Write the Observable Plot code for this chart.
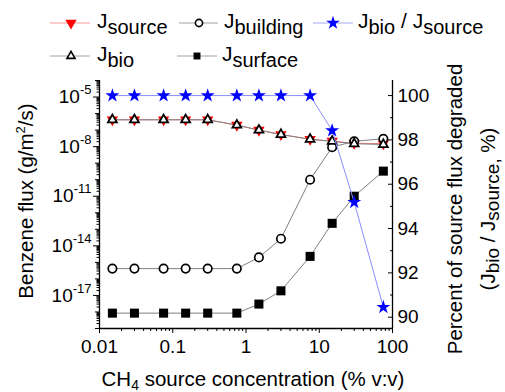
<!DOCTYPE html>
<html><head><meta charset="utf-8">
<script src="https://cdn.jsdelivr.net/npm/d3@7"></script>
<script src="https://cdn.jsdelivr.net/npm/@observablehq/plot@0.6"></script>
<style>
html,body{margin:0;padding:0;background:#fff;}
#wrap{position:relative;width:505px;height:392px;font-family:"Liberation Sans",Arial,sans-serif;overflow:hidden;}
#wrap svg{position:absolute;left:0;top:0;}
</style></head><body><div id="wrap"></div>
<script>
// ---- data ----
const conc = [0.015, 0.03, 0.075, 0.15, 0.3, 0.75, 1.5, 3, 7.5, 15, 30, 75];
const jSource = [4.2e-7, 4.2e-7, 4.2e-7, 4.2e-7, 4.2e-7, 2.0e-7, 1.0e-7, 5.4e-8, 2.8e-8, 2.15e-8, 1.6e-8, 1.5e-8];
const jBio = [4.2e-7, 4.2e-7, 4.2e-7, 4.2e-7, 4.2e-7, 2.0e-7, 1.0e-7, 5.4e-8, 2.8e-8, 2.1e-8, 1.5e-8, 1.35e-8];
const jBuilding = [4.2e-16, 4.2e-16, 4.2e-16, 4.2e-16, 4.2e-16, 4.2e-16, 2.0e-15, 2.7e-14, 1.0e-10, 9.3e-9, 2.1e-8, 3.0e-8];
const jSurface = [8.5e-19, 8.5e-19, 8.5e-19, 8.5e-19, 8.5e-19, 8.5e-19, 3.0e-18, 1.9e-17, 2.3e-15, 2.3e-13, 1.0e-11, 3.3e-10];
const pctDegraded = [100, 100, 100, 100, 100, 100, 100, 100, 100, 98.42, 95.19, 90.45];
const xTicks = [0.01, 0.1, 1, 10, 100];
const yTicksLeft = [1e-5, 1e-8, 1e-11, 1e-14, 1e-17];
const yTicksRight = [90, 92, 94, 96, 98, 100];
const yMinorRight = [91, 93, 95, 97, 99];
const legendLabels = [["J", "source"], ["J", "building"], ["J", "bio", " / J", "source"], ["J", "bio"], ["J", "surface"]];

const rows = conc.map((c, i) => ({c, src: jSource[i], bio: jBio[i], bld: jBuilding[i], sur: jSurface[i], pct: pctDegraded[i]}));

const minorX = [];
for (let e = -2; e <= 1; e++) for (let k = 2; k <= 9; k++) minorX.push(k * Math.pow(10, e));
const decY = [], minorY = [];
for (let e = -19; e <= -5; e++) {
  const v = Math.pow(10, e);
  if (!yTicksLeft.some(t => Math.abs(Math.log10(t) - e) < 1e-9)) decY.push(v);
  for (let k = 2; k <= 9; k++) minorY.push(k * v);
}
decY.push(1e-4);

const triDown = {draw(ctx, size) {
  const y = Math.sqrt(size / (Math.sqrt(3) * 3));
  ctx.moveTo(0, 2 * y); ctx.lineTo(-Math.sqrt(3) * y, -y); ctx.lineTo(Math.sqrt(3) * y, -y); ctx.closePath();
}};

const W = 505, H = 392, mL = 99, mR = 113, mT = 80, mB = 64;
const FONT = '"Liberation Sans", Arial, sans-serif';
const common = {width: W, height: H, marginLeft: mL, marginRight: mR, marginTop: mT, marginBottom: mB,
  style: {fontFamily: FONT, fontSize: "19px", color: "#000", background: "transparent", overflow: "visible"}};

const main = Plot.plot({
  ...common,
  x: {type: "log", domain: [0.01, 100], label: null},
  y: {type: "log", domain: [1e-19, 1e-4], label: null},
  marks: [
    Plot.axisX(minorX, {tickSize: 3, tickFormat: () => "", label: null}),
    Plot.axisX(xTicks, {tickSize: 5, tickPadding: 6, fontSize: 19, tickFormat: d => String(d), label: null}),
    Plot.axisY(minorY, {anchor: "left", tickSize: 2.5, tickFormat: () => "", label: null}),
    Plot.axisY(decY, {anchor: "left", tickSize: 4, tickFormat: () => "", label: null}),
    Plot.axisY(yTicksLeft, {anchor: "left", tickSize: 6, tickPadding: 2, fontSize: 19, tickFormat: d => "10^" + Math.round(Math.log10(d)), label: null}),
    Plot.ruleX([0.01, 100], {stroke: "#000", strokeWidth: 1.3}),
    Plot.ruleY([1e-19], {stroke: "#000", strokeWidth: 1.3}),
    Plot.line(rows, {x: "c", y: "src", stroke: "#ff5050", strokeWidth: 0.8}),
    Plot.line(rows, {x: "c", y: "bld", stroke: "#808080", strokeWidth: 1}),
    Plot.line(rows, {x: "c", y: "sur", stroke: "#808080", strokeWidth: 1}),
    Plot.line(rows, {x: "c", y: "bio", stroke: "#808080", strokeWidth: 1}),
    Plot.dot(rows, {x: "c", y: "src", symbol: triDown, r: 4.2, fill: "#ff0000", stroke: "none"}),
    Plot.dot(rows, {x: "c", y: "bld", symbol: "circle", r: 4.2, fill: "#fff", stroke: "#000", strokeWidth: 1.7}),
    Plot.dot(rows, {x: "c", y: "sur", symbol: "square", r: 5.1, fill: "#000", stroke: "none"}),
    Plot.dot(rows, {x: "c", y: "bio", symbol: "triangle", r: 3.3, fill: "#fff", stroke: "#000", strokeWidth: 1.8})
  ]
});

const over = Plot.plot({
  ...common,
  x: {type: "log", domain: [0.01, 100], axis: null},
  y: {domain: [89.49, 100.68], label: null},
  marks: [
    Plot.axisY(yMinorRight, {anchor: "right", tickSize: -3, tickFormat: () => "", label: null}),
    Plot.axisY(yTicksRight, {anchor: "right", tickSize: -5, tickPadding: 10, fontSize: 19, tickFormat: d => String(d), label: null}),
    Plot.line(rows, {x: "c", y: "pct", stroke: "#8c8cff", strokeWidth: 1}),
    Plot.dot(rows, {x: "c", y: "pct", symbol: "star", r: 4.4, fill: "#0000ff", stroke: "none"})
  ]
});

const wrap = document.getElementById("wrap");
wrap.appendChild(main);
wrap.appendChild(over);

// superscripts on log tick labels
d3.select(main).selectAll("text").each(function() {
  const t = this.textContent;
  const m = /^10\^(-?\d+)$/.exec(t);
  if (!m) return;
  const s = d3.select(this);
  s.text("");
  s.append("tspan").text("10");
  s.append("tspan").attr("font-size", 13).attr("dy", -9).text(m[1]);
});

// axis titles
const ms = d3.select(main);
const ttl = ms.append("g").attr("font-family", FONT).attr("fill", "#000").attr("font-size", 20.5);
const xt = ttl.append("text").attr("x", 253).attr("y", 386).attr("text-anchor", "middle");
xt.append("tspan").text("CH");
xt.append("tspan").attr("font-size", 14).attr("dy", 4).text("4");
xt.append("tspan").attr("dy", -4).text(" source concentration (% v:v)");

const yt = ttl.append("text").attr("transform", "translate(33,201) rotate(-90)").attr("text-anchor", "middle");
yt.append("tspan").text("Benzene flux (g/m");
yt.append("tspan").attr("font-size", 13).attr("dy", -8).text("2");
yt.append("tspan").attr("dy", 8).text("/s)");

ttl.append("text").attr("transform", "translate(462,209) rotate(-90)").attr("text-anchor", "middle")
  .text("Percent of source flux degraded");
const r2 = ttl.append("text").attr("transform", "translate(495,209) rotate(-90)").attr("text-anchor", "middle");
r2.append("tspan").text("(J");
r2.append("tspan").attr("font-size", 19).attr("dy", 4).text("bio");
r2.append("tspan").attr("dy", -4).text(" / J");
r2.append("tspan").attr("font-size", 19).attr("dy", 4).text("source,");
r2.append("tspan").attr("dy", -4).text(" %)");

// legend
const leg = d3.create("svg").attr("width", W).attr("height", 80)
  .attr("font-family", FONT).attr("font-size", 21);
const sym = (s, r) => d3.symbol(s, Math.PI * r * r)();
const legendLayout = [
  {x0: 50, x1: 90, cx: 71, tx: 97, cy: 23, line: "#ff9a9a", draw: g => g.append("path").attr("d", sym(triDown, 4.2)).attr("fill", "#f00")},
  {x0: 179, x1: 218, cx: 199, tx: 224, cy: 23, line: "#a0a0a0", draw: g => g.append("path").attr("d", sym(d3.symbolCircle, 3.6)).attr("fill", "#fff").attr("stroke", "#000").attr("stroke-width", 1.6)},
  {x0: 313, x1: 353, cx: 333, tx: 358, cy: 23, line: "#a8a8ff", draw: g => g.append("path").attr("d", sym(d3.symbolStar, 4.3)).attr("fill", "#00f")},
  {x0: 50, x1: 90, cx: 71, tx: 97, cy: 56, line: "#a0a0a0", draw: g => g.append("path").attr("d", sym(d3.symbolTriangle, 3.0)).attr("fill", "#fff").attr("stroke", "#000").attr("stroke-width", 1.6)},
  {x0: 177, x1: 217, cx: 197, tx: 222, cy: 56, line: "#a0a0a0", draw: g => g.append("path").attr("d", sym(d3.symbolSquare, 3.9)).attr("fill", "#000")}
];
legendLayout.forEach((L, i) => {
  leg.append("line").attr("x1", L.x0).attr("x2", L.x1).attr("y1", L.cy).attr("y2", L.cy).attr("stroke", L.line).attr("stroke-width", 1);
  L.draw(leg.append("g").attr("transform", `translate(${L.cx},${L.cy})`));
  const t = leg.append("text").attr("x", L.tx).attr("y", L.cy + 5).attr("fill", "#000");
  const parts = legendLabels[i];
  parts.forEach((p, j) => {
    const isSub = j % 2 === 1;
    t.append("tspan").attr("font-size", isSub ? 20 : 21).attr("dy", j === 0 ? 0 : (isSub ? 6 : -6)).text(p);
  });
});
wrap.appendChild(leg.node());
</script></body></html>
